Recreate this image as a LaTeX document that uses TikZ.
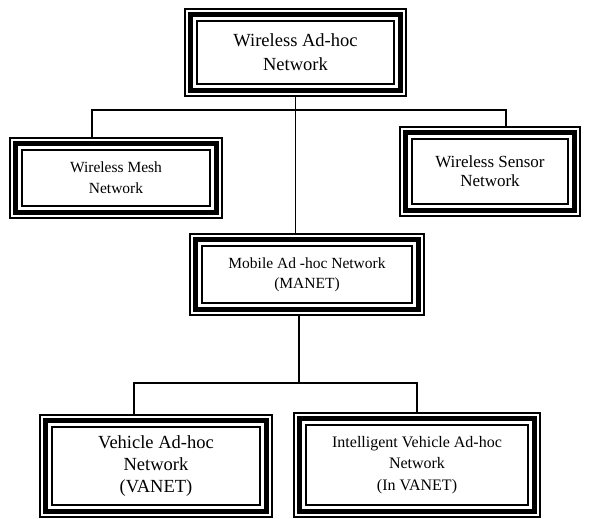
\documentclass[tikz,border=0pt]{standalone}
\usepackage{fontspec}
\setmainfont{Liberation Serif}
\begin{document}
\begin{tikzpicture}[x=1pt,y=-1pt,
  frame/.style={rectangle, fill=white, inner sep=0pt, align=center,
    path picture={
      \draw[line width=2.2pt] ([shift={(1.1pt,1.1pt)}]path picture bounding box.south west) rectangle ([shift={(-1.1pt,-1.1pt)}]path picture bounding box.north east);
      \draw[line width=5pt] ([shift={(6.9pt,6.9pt)}]path picture bounding box.south west) rectangle ([shift={(-6.9pt,-6.9pt)}]path picture bounding box.north east);
      \draw[line width=2pt] ([shift={(12.6pt,12.6pt)}]path picture bounding box.south west) rectangle ([shift={(-12.6pt,-12.6pt)}]path picture bounding box.north east);
    }},
  link/.style={line width=1.1pt}
]
\useasboundingbox (0,0) rectangle (589,519);

\node[frame, minimum width=223pt, minimum height=89pt,
  font=\fontsize{18.5}{24}\selectfont] (top) at (295.5,52.5) {Wireless Ad-hoc\\Network};
\node[frame, minimum width=214pt, minimum height=82pt,
  font=\fontsize{15.5}{21}\selectfont] (mesh) at (116,178) {Wireless Mesh\\Network};
\node[frame, minimum width=182pt, minimum height=91pt,
  font=\fontsize{17}{19}\selectfont] (sensor) at (490,171.5) {Wireless Sensor\\Network};
\node[frame, minimum width=236pt, minimum height=83pt,
  font=\fontsize{15.5}{20}\selectfont] (manet) at (307,274.5) {Mobile Ad -hoc Network\\(MANET)};
\node[frame, minimum width=234pt, minimum height=104pt,
  font=\fontsize{18.5}{22}\selectfont] (vanet) at (156,466) {Vehicle Ad-hoc\\Network\\(VANET)};
\node[frame, minimum width=248pt, minimum height=106pt,
  font=\fontsize{16}{21.5}\selectfont] (invanet) at (417,465) {Intelligent Vehicle Ad-hoc\\Network\\(In VANET)};

\draw[link] (top.south) -- (top.south |- manet.north);
\draw[link] ([xshift=-24pt]mesh.north) |- ([xshift=16pt]sensor.north |- 0,110) -- ([xshift=16pt]sensor.north);
\draw[link] ([xshift=-8pt]manet.south) -- ([xshift=-8pt]manet.south |- 0,383);
\draw[link] ([xshift=-22pt]vanet.north) |- (invanet.north |- 0,383) -- (invanet.north);
\end{tikzpicture}
\end{document}
